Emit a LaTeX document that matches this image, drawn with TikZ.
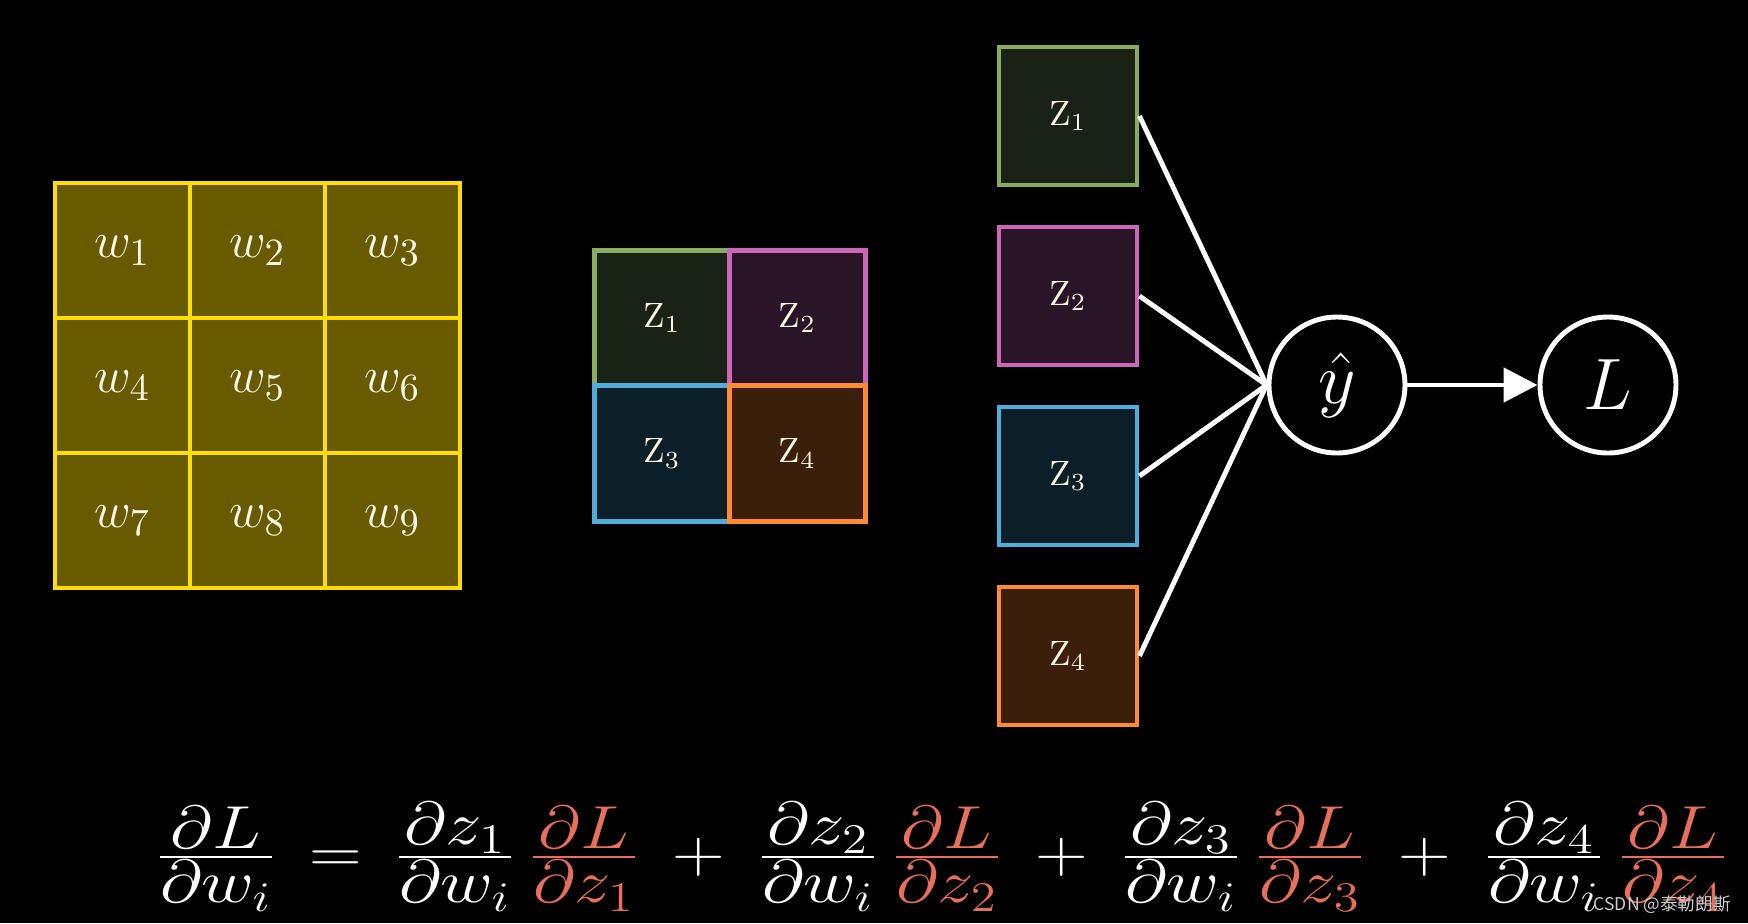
\documentclass[tikz,border=0pt]{standalone}
\usepackage{fontspec}
\usepackage{amsmath}
\newfontfamily\cjkfont{Noto Sans CJK SC}
\usetikzlibrary{arrows.meta}

\definecolor{gridyellow}{RGB}{255,222,0}
\definecolor{gridolive}{RGB}{104,90,0}
\definecolor{labelwhite}{RGB}{250,246,228}
\definecolor{eqred}{RGB}{230,112,92}
\definecolor{wmgray}{RGB}{205,205,205}
\definecolor{zb1}{RGB}{135,172,98}
\definecolor{zf1}{RGB}{26,34,21}
\definecolor{zb2}{RGB}{204,102,186}
\definecolor{zf2}{RGB}{42,21,40}
\definecolor{zb3}{RGB}{82,172,218}
\definecolor{zf3}{RGB}{12,31,41}
\definecolor{zb4}{RGB}{255,140,52}
\definecolor{zf4}{RGB}{60,31,10}

% tight fraction with full-size parts
\newcommand{\pfrac}[2]{\frac{\displaystyle #1}{\displaystyle #2}}

\tikzset{
    wcell/.style={draw=gridyellow, fill=gridolive, line width=1.4pt,
        minimum size=1.35cm, inner sep=0pt, text=labelwhite,
        font=\fontsize{15}{18}\selectfont},
    zcell/.style={line width=1.4pt, inner sep=0pt, text=labelwhite,
        font=\fontsize{10}{12}\selectfont},
    neuron/.style={circle, draw=white, line width=1.4pt, minimum size=1.36cm,
        inner sep=0pt, text=white, font=\fontsize{20}{24}\selectfont},
    wire/.style={white, line width=1.4pt},
}

\begin{document}
\begin{tikzpicture}
    \fill[black] (0,0) rectangle (17.48,-9.23);
    \useasboundingbox (0,0) rectangle (17.48,-9.23);

    % 3x3 weights
    \foreach \n/\x/\y in {1/1.225/-2.505, 2/2.575/-2.505, 3/3.925/-2.505,
                          4/1.225/-3.855, 5/2.575/-3.855, 6/3.925/-3.855,
                          7/1.225/-5.205, 8/2.575/-5.205, 9/3.925/-5.205}{
        \node[wcell] (w\n) at (\x,\y) {$w_{\n}$};
    }

    % 2x2 output
    \foreach \n/\x/\y in {1/6.62/-3.18, 2/7.975/-3.18,
                          3/6.62/-4.535, 4/7.975/-4.535}{
        \node[zcell, draw=zb\n, fill=zf\n, minimum size=1.355cm] (m\n) at (\x,\y)
            {$\mathrm{Z}_{\n}$};
    }

    % flattened
    \foreach \n/\y in {1/-1.16, 2/-2.96, 3/-4.76, 4/-6.56}{
        \node[zcell, draw=zb\n, fill=zf\n, minimum size=1.38cm] (z\n) at (10.68,\y)
            {$\mathrm{Z}_{\n}$};
    }

    \node[neuron] (yhat) at (13.37,-3.85) {$\hat{y}$};
    \node[neuron] (loss) at (16.08,-3.85) {$L$};

    \foreach \n in {1,...,4}{
        \draw[wire] (z\n.east) -- (yhat.west);
    }
    \draw[wire, -{Triangle[length=0.34cm, width=0.34cm]}] (yhat) -- (loss);

    \node[text=white, font=\fontsize{18}{22}\selectfont, anchor=base,
        inner sep=0pt] (eq) at (9.42,-8.72) {\scalebox{1.2}[1]{$
        \pfrac{\partial L}{\partial w_i} \,=\,
        \pfrac{\partial z_1}{\partial w_i}\,{\color{eqred}\pfrac{\partial L}{\partial z_1}}
        \:+\:
        \pfrac{\partial z_2}{\partial w_i}\,{\color{eqred}\pfrac{\partial L}{\partial z_2}}
        \:+\:
        \pfrac{\partial z_3}{\partial w_i}\,{\color{eqred}\pfrac{\partial L}{\partial z_3}}
        \:+\:
        \pfrac{\partial z_4}{\partial w_i}\,{\color{eqred}\pfrac{\partial L}{\partial z_4}}$}};

    \node[text=wmgray, font=\cjkfont\fontsize{5}{6}\selectfont, anchor=east] (mark)
        at (17.43,-9.05) {CSDN @泰勒朗斯};
\end{tikzpicture}
\end{document}
